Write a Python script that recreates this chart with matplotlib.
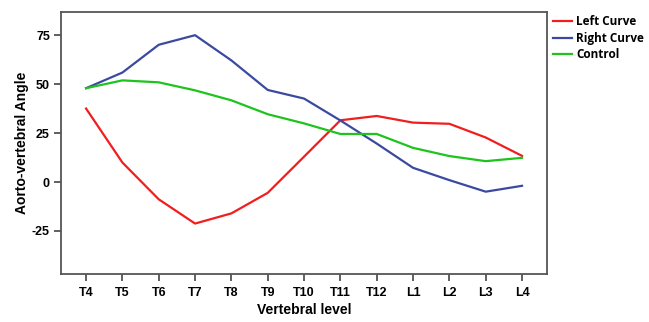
import numpy as np
import matplotlib
matplotlib.use("Agg")
import matplotlib.pyplot as plt

levels = ["T4", "T5", "T6", "T7", "T8", "T9", "T10", "T11", "T12", "L1", "L2", "L3", "L4"]
left_curve = [37.6, 10, -8.8, -21.2, -16, -5.5, 13, 31.6, 33.8, 30.4, 29.8, 22.8, 13.4]
right_curve = [48, 56, 70.2, 75.1, 62.2, 47.1, 42.7, 31.5, 19.7, 7.3, 1, -4.9, -1.9]
control = [48, 52, 51, 46.9, 41.8, 34.7, 30, 24.6, 24.6, 17.5, 13.3, 10.7, 12.4]

plt.rcParams['font.family'] = ['Liberation Sans', 'DejaVu Sans']

fig = plt.figure(figsize=(6.49, 3.22), dpi=100)
fig.patch.set_facecolor('white')
ax = fig.add_axes([0.094, 0.149, 0.749, 0.814])

x = np.arange(len(levels))
ax.plot(x, left_curve, color='#f01e1e', linewidth=1.6, label='Left Curve')
ax.plot(x, right_curve, color='#3a4aa0', linewidth=1.6, label='Right Curve')
ax.plot(x, control, color='#1ec31e', linewidth=1.6, label='Control')

ax.set_xlim(-0.69, 12.69)
ax.set_ylim(-47, 87)
ax.set_xticks(x)
ax.set_xticklabels(levels, fontweight='bold', fontsize=9)
ax.set_yticks([-25, 0, 25, 50, 75])
ax.set_yticklabels(['-25', '0', '25', '50', '75'], fontweight='bold', fontsize=9)
ax.tick_params(axis='x', direction='out', length=5, width=1.2, color='#444444', pad=4)
ax.tick_params(axis='y', direction='out', length=5, width=1.2, color='#444444', pad=3)

for s in ax.spines.values():
    s.set_color('#555555')
    s.set_linewidth(1.3)

ax.set_xlabel('Vertebral level', fontweight='bold', fontsize=10, labelpad=3)
ax.set_ylabel('Aorto-vertebral Angle', fontweight='bold', fontsize=10, labelpad=2)

leg = ax.legend(loc='upper left', bbox_to_anchor=(1.0, 1.01), frameon=False,
                handlelength=1.6, handletextpad=0.35, labelspacing=0.3,
                borderaxespad=0.1, prop={'family': 'Open Sans', 'weight': 'bold', 'size': 8.5})

fig.savefig('out.png', dpi=100)
